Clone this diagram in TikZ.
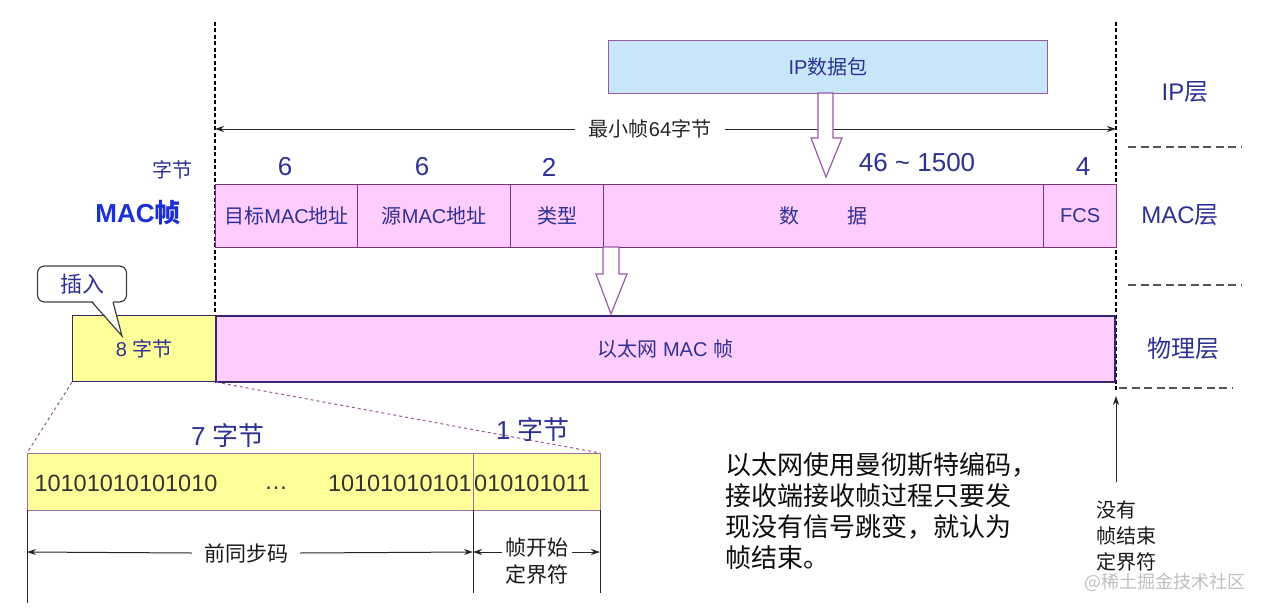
\documentclass[tikz,border=0pt]{standalone}
\usepackage{fontspec}
\setmainfont{Liberation Sans}
\newfontfamily\cjk{Noto Sans CJK SC}
\newcommand{\C}[1]{{\cjk #1}}
\usetikzlibrary{arrows.meta}
\definecolor{tblue}{HTML}{2E3192}
\definecolor{mblue}{HTML}{1C2FD0}
\definecolor{pinkf}{HTML}{FFCCFF}
\definecolor{pinkd}{HTML}{7A3278}
\definecolor{yel}{HTML}{FFFF99}
\definecolor{ipf}{HTML}{C8E6FA}
\definecolor{ipd}{HTML}{9A5AA8}
\definecolor{navy}{HTML}{33266E}
\definecolor{sepgray}{HTML}{555555}
\tikzset{
  fs/.style={font=\fontsize{#1}{30}\selectfont},
  vdash/.style={draw=black, line width=1.2pt, dash pattern=on 4pt off 2.5pt},
  hsep/.style={draw=sepgray, line width=1.6pt, dash pattern=on 8pt off 4.5pt},
  cell/.style={draw=pinkd, fill=pinkf, line width=1.2pt, anchor=north west, inner sep=0pt, fs=20, text=tblue, minimum height=63},
  num/.style={inner sep=0pt, text=tblue, fs=26},
  layer/.style={inner sep=0pt, text=tblue, fs=24},
  hollow/.style={draw=ipd, fill=white, line width=1.2pt, line join=miter},
  dim/.style={draw=black!85, line width=1pt, -{Stealth[length=9pt,width=6pt]}},
  pre/.style={draw=pinkd!70, fill=yel, line width=1.2pt, anchor=north west, inner sep=0pt, minimum height=57},
  bits/.style={inner sep=0pt, text=black!80, fs=23.5},
  blk/.style={inner sep=0pt, text=black!90}
}
\begin{document}
\begin{tikzpicture}[x=1pt,y=-1pt]
\useasboundingbox (0,0) rectangle (1263,610);
\fill[white] (0,0) rectangle (1263,610);

% frame boundaries
\coordinate (L0) at (215,22); \coordinate (L1) at (215,315);
\coordinate (R0) at (1116,22); \coordinate (R1) at (1116,390);
\draw[vdash] (L0) -- (L1);
\draw[vdash] (R0) -- (R1);

% layer separators
\coordinate (s1a) at (1128,147); \coordinate (s1b) at (1242,147);
\coordinate (s2a) at (1128,285); \coordinate (s2b) at (1242,285);
\coordinate (s3a) at (1119,388); \coordinate (s3b) at (1233,388);
\draw[hsep] (s1a) -- (s1b);
\draw[hsep] (s2a) -- (s2b);
\draw[hsep] (s3a) -- (s3b);
\node[layer] (lip) at (1185,92) {IP\C{层}};
\node[layer] (lmac) at (1180,215) {MAC\C{层}};
\node[layer] (lphy) at (1183,348) {\C{物理层}};

% IP packet
\node[draw=ipd, fill=ipf, line width=1.2pt, anchor=north west, minimum width=439, minimum height=53, inner sep=0pt, text=tblue, fs=20] (ip) at (608,40) {IP\C{数据包}};

% minimum frame dimension
\coordinate (dl) at (215,129); \coordinate (dr) at (1116,129);
\node[inner xsep=14pt, inner ysep=0pt, text=black!85, fs=20] (minf) at (650,129) {\C{最小帧}64\C{字节}};
\draw[dim] (minf.west) -- (dl);
\draw[dim] (minf.east) -- (dr);

% hollow arrow IP -> data
\filldraw[hollow] (818,93) -- (818,138) -- (811,138) -- (826,177) -- (842,138) -- (833,138) -- (833,93) -- cycle;

% byte counts
\node[inner sep=0pt, text=tblue, fs=20] (zj) at (172,170) {\C{字节}};
\node[num] (n1) at (285,167) {6};
\node[num] (n2) at (422,167) {6};
\node[num] (n3) at (549,167) {2};
\node[num] (n4) at (917,163) {46 \textasciitilde{} 1500};
\node[num] (n5) at (1083,167) {4};

% MAC frame label
\node[inner sep=0pt, text=mblue, font=\fontsize{26}{30}\selectfont\bfseries] (macf) at (138,213) {MAC\C{帧}};

% MAC frame cells
\node[cell, minimum width=142] (c1) at (215,184) {\C{目标}MAC\C{地址}};
\node[cell, minimum width=153] (c2) at (357,184) {\C{源}MAC\C{地址}};
\node[cell, minimum width=93] (c3) at (510,184) {\C{类型}};
\node[cell, minimum width=440] (c4) at (603,184) {\C{数}\hspace{48pt}\C{据}};
\node[cell, minimum width=73] (c5) at (1043,184) {FCS};

% hollow arrow MAC -> phy
\filldraw[hollow] (603,247) -- (603,274) -- (596,274) -- (611,314) -- (627,274) -- (619,274) -- (619,247) -- cycle;

% physical layer
\node[draw=navy, fill=yel, line width=1.2pt, anchor=north west, minimum width=143, minimum height=66, inner sep=0pt, text=tblue, fs=20] (pre8) at (72,315) {8 \C{字节}};
\node[draw=navy, fill=pinkf, line width=1.6pt, anchor=north west, minimum width=899, minimum height=66, inner sep=0pt, text=tblue, fs=20] (eth) at (215,315) {\C{以太网} MAC \C{帧}};

% callout
\node[draw=black!75, fill=white, line width=1.2pt, rounded corners=7pt, minimum width=89, minimum height=36, inner sep=0pt, text=tblue, fs=22] (ins) at (82,284) {\C{插入}};
\coordinate (ptip) at (122,336);
\fill[white] (92,300) -- (ptip) -- (113,300) -- cycle;
\draw[black!75, line width=1.2pt, line join=miter] (92,302) -- (ptip) -- (113,302);

% expansion lines
\coordinate (e1) at (27,453); \coordinate (e2) at (600,453);
\draw[pinkd!80, line width=1pt, dashed] (pre8.south west) -- (e1);
\draw[pinkd!80, line width=1pt, dashed] (pre8.south east) -- (e2);

% preamble detail
\node[pre, minimum width=446] (p7) at (27,453) {};
\node[pre, minimum width=127] (p1) at (473,453) {};
\node[bits] (b1) at (126,483) {10101010101010};
\node[bits] (b2) at (276,488) {\ldots};
\node[bits, anchor=east] (b3) at (472,483) {10101010101};
\node[bits, anchor=west] (b4) at (474,483) {010101011};
\node[num] (l7) at (228,436) {7 \C{字节}};
\node[num] (l1) at (533,430) {1 \C{字节}};

% dimension below preamble
\coordinate (v1a) at (27,510); \coordinate (v1b) at (27,603);
\coordinate (v2a) at (473,510); \coordinate (v2b) at (473,593);
\coordinate (v3a) at (600,510); \coordinate (v3b) at (600,593);
\draw[black!85, line width=1pt] (v1a) -- (v1b);
\draw[black!85, line width=1pt] (v2a) -- (v2b);
\draw[black!85, line width=1pt] (v3a) -- (v3b);
\coordinate (d1) at (27,552); \coordinate (d2) at (473,552); \coordinate (d3) at (600,552);
\node[blk, inner xsep=12pt, font=\cjk\fontsize{21}{26}\selectfont] (tqt) at (246,553) {前同步码};
\draw[dim] (tqt.west) -- (d1);
\draw[dim] (tqt.east) -- (d2);
\node[blk, align=center, inner xsep=3pt, font=\cjk\fontsize{21}{27}\selectfont] (sfd) at (537,561) {帧开始\\定界符};
\draw[dim] ([yshift=9pt]sfd.west) -- (d2);
\draw[dim] ([yshift=9pt]sfd.east) -- (d3);

% explanation text
\node[inner sep=0pt, anchor=north west, align=left, text=black!95, font=\cjk\fontsize{26}{31}\selectfont] (expl) at (725,452) {以太网使用曼彻斯特编码，\\接收端接收帧过程只要发\\现没有信号跳变，就认为\\帧结束。};

% no end delimiter
\node[inner sep=0pt, anchor=north west, align=left, text=black!90, font=\cjk\fontsize{20}{26}\selectfont] (noend) at (1096,500) {没有\\帧结束\\定界符};
\coordinate (na) at (1116,482); \coordinate (nb) at (1116,396);
\draw[dim] (na) -- (nb);

% watermark
\node[inner sep=0pt, text=black!25, font=\cjk\fontsize{18}{20}\selectfont] (wm) at (1165,582) {@稀土掘金技术社区};
\end{tikzpicture}
\end{document}
